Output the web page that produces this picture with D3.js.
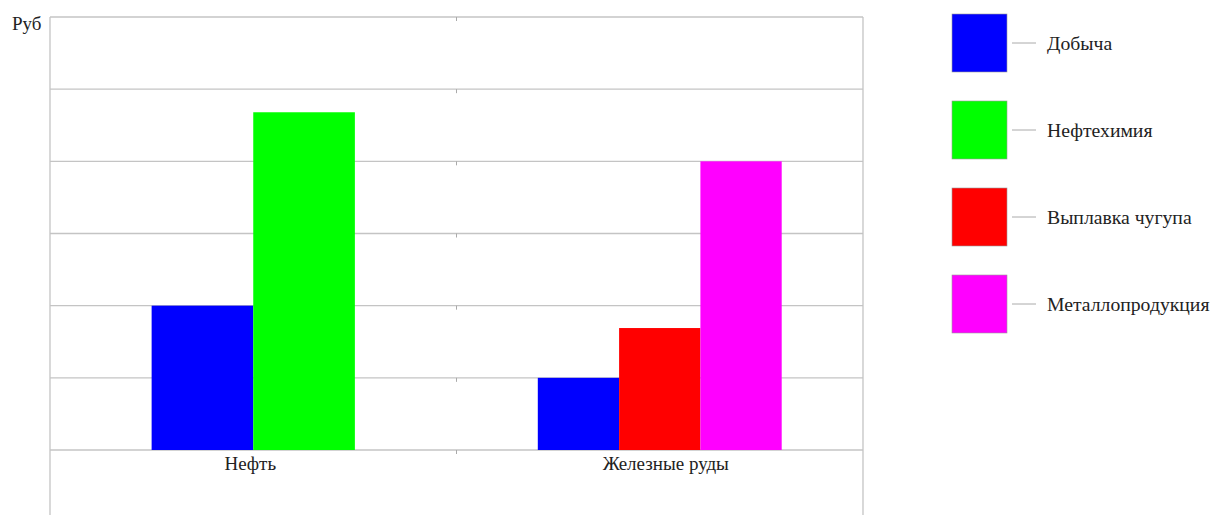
<!DOCTYPE html>
<html>
<head>
<meta charset="utf-8">
<script src="https://cdn.jsdelivr.net/npm/d3@7"></script>
<style>
  body { margin: 0; background: #fff; }
</style>
</head>
<body>
<svg width="1213" height="515"></svg>
<script>
"use strict";

const categories = ["Нефть", "Железные руды"];
const seriesNames = ["Добыча", "Нефтехимия", "Выплавка чугупа", "Металлопродукция"];
const seriesColors = ["#0000ff", "#00ff00", "#ff0000", "#ff00ff"];
// values per category (only series present in each category)
const neftValues = [
  { series: "Добыча", value: 2.0 },
  { series: "Нефтехимия", value: 4.68 }
];
const rudaValues = [
  { series: "Добыча", value: 1.0 },
  { series: "Выплавка чугупа", value: 1.69 },
  { series: "Металлопродукция", value: 4.0 }
];
const yTicks = [0, 1, 2, 3, 4, 5, 6];
const yLabel = "Руб";

const FONT = "'Liberation Serif', 'Times New Roman', serif";
const svg = d3.select("svg");
const plotLeft = 50, plotRight = 863, plotTop = 17, baseline = 450, plotBottom = 515;

const x = d3.scaleBand().domain(categories).range([plotLeft, plotRight]);
const y = d3.scaleLinear().domain([0, 6]).range([baseline, plotTop]);
const color = d3.scaleOrdinal().domain(seriesNames).range(seriesColors);

// сетка
const grid = svg.append("g").attr("stroke", "#c4c4c4").attr("stroke-width", 1.3);
grid.selectAll("line.h")
  .data(yTicks)
  .enter()
  .append("line")
  .attr("x1", plotLeft).attr("x2", plotRight)
  .attr("y1", d => y(d)).attr("y2", d => y(d));

// рамка слева и справа, уходит ниже нуля
grid.selectAll("line.v")
  .data([plotLeft, plotRight])
  .enter()
  .append("line")
  .attr("x1", d => d).attr("x2", d => d)
  .attr("y1", plotTop).attr("y2", plotBottom);

// маленькие засечки между категориями
const mid = x(categories[1]);
svg.append("g").attr("stroke", "#aaa").attr("stroke-width", 1)
  .selectAll("line")
  .data(yTicks)
  .enter()
  .append("line")
  .attr("x1", mid).attr("x2", mid)
  .attr("y1", d => y(d)).attr("y2", d => y(d) + 4);

// столбцы
const groups = [neftValues, rudaValues];
groups.forEach((vals, i) => {
  const inner = d3.scaleBand()
    .domain(vals.map(d => d.series))
    .range([x(categories[i]), x(categories[i]) + x.bandwidth()])
    .paddingOuter(1);
  svg.append("g")
    .selectAll("rect")
    .data(vals)
    .enter()
    .append("rect")
    .attr("x", d => inner(d.series))
    .attr("width", inner.bandwidth())
    .attr("y", d => y(d.value))
    .attr("height", d => y(0) - y(d.value))
    .attr("fill", d => color(d.series));
});

// подписи категорий
svg.append("g")
  .selectAll("text")
  .data(categories)
  .enter()
  .append("text")
  .attr("x", (d, i) => x(d) + x.bandwidth() / 2 + (i ? 6 : -3))
  .attr("y", 470)
  .attr("text-anchor", "middle")
  .attr("font-family", FONT)
  .attr("font-size", 19)
  .attr("fill", "#222")
  .text(d => d);

svg.append("text")
  .attr("x", 12).attr("y", 30)
  .attr("font-family", FONT)
  .attr("font-size", 19)
  .attr("fill", "#222")
  .text(yLabel);

// легенда
const legend = svg.append("g")
  .selectAll("g")
  .data(seriesNames)
  .enter()
  .append("g")
  .attr("transform", (d, i) => `translate(952, ${14 + i * 87})`);

legend.append("rect")
  .attr("width", 55).attr("height", 58)
  .attr("fill", d => color(d))
  .attr("stroke", "#999").attr("stroke-width", 0.6);

legend.append("line")
  .attr("x1", 60).attr("x2", 84)
  .attr("y1", 29).attr("y2", 29)
  .attr("stroke", "#aaa").attr("stroke-width", 1);

legend.append("text")
  .attr("x", 95).attr("y", 36)
  .attr("font-family", FONT)
  .attr("font-size", 19.7)
  .attr("fill", "#222")
  .text(d => d);
</script>
</body>
</html>
